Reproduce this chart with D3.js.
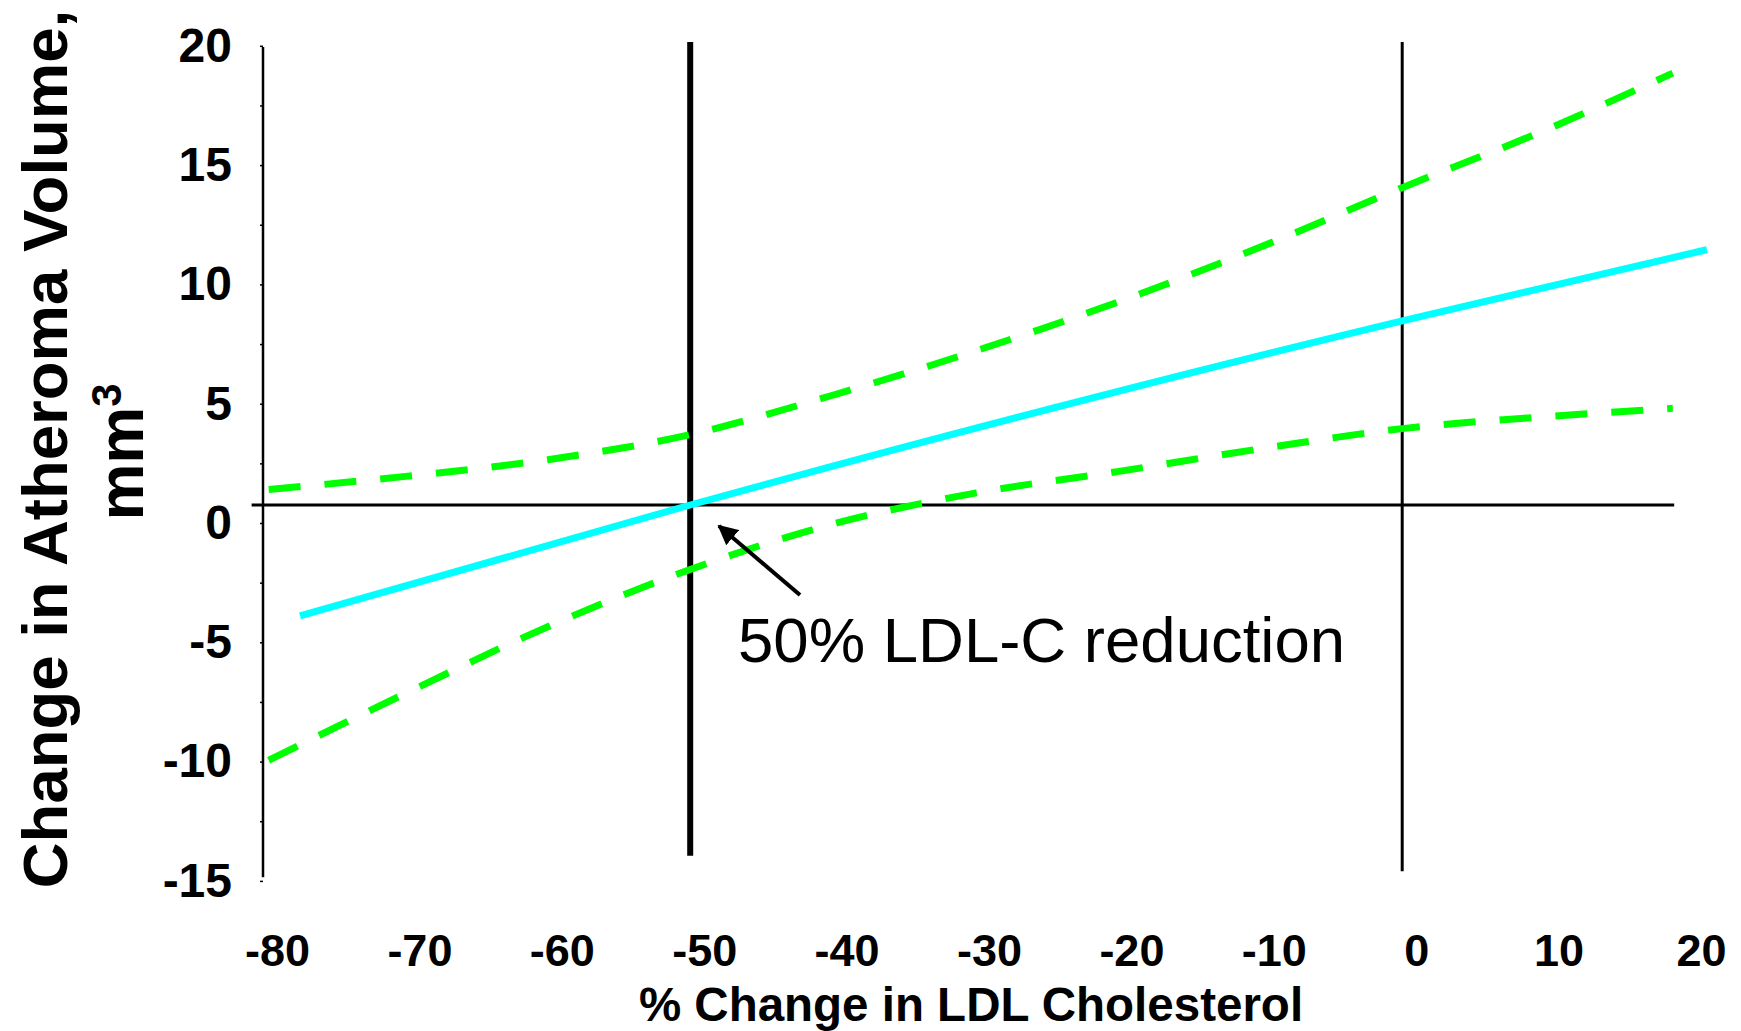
<!DOCTYPE html>
<html>
<head>
<meta charset="utf-8">
<script src="https://cdn.jsdelivr.net/npm/d3@7"></script>
<style>
  body { margin: 0; background: #fff; }
  svg { display: block; font-family: "Liberation Sans", Arial, sans-serif; }
</style>
</head>
<body>
<div class="svg-container"></div>
<script>
// values
var xTicks = [-80, -70, -60, -50, -40, -30, -20, -10, 0, 10, 20];
var yTicks = [-15, -10, -5, 0, 5, 10, 15, 20];

var fitX = [-77.4, -50, 0, 21.4];
var fitY = [-4.65, 0, 7.72, 10.7];

var bandX = [-79.6, -70, -60, -50, -40, -30, -20, -10, 0, 10, 19];
var upperY = [0.65, 1.2, 1.9, 2.95, 4.6, 6.45, 8.5, 10.8, 13.3, 15.7, 18.1];
var lowerY = [-10.7, -7.9, -5.1, -2.7, -0.8, 0.5, 1.4, 2.35, 3.2, 3.7, 4.05];

var refX = -50;      // 50% LDL-C reduction
var noteText = '50% LDL-C reduction';

var W = 1741, H = 1031;

var svg = d3.select('.svg-container').append('svg')
  .attr('width', W)
  .attr('height', H);

svg.append('rect').attr('width', W).attr('height', H).attr('fill', '#fff');

var x = d3.scaleLinear().domain([-80, 20]).range([263, 1687]);
var y = d3.scaleLinear().domain([-15, 20]).range([862.9, 27.8]);

// plain hyphen minus, like the original labels
function fmt(d) { return String(d); }

// y axis: tick labels sit a little below their grid value, as in the original
var yAxis = d3.axisLeft(y)
  .tickValues(d3.range(-15, 20.1, 2.5))
  .tickSize(3)
  .tickFormat(function(d) { return yTicks.indexOf(d) >= 0 ? fmt(d) : ''; });

var gy = svg.append('g')
  .attr('transform', 'translate(' + x(-80) + ',18)')
  .call(yAxis);
gy.select('.domain').remove();
gy.selectAll('.tick line').attr('stroke', '#000').attr('stroke-width', 1.5);
gy.selectAll('.tick text')
  .attr('x', -31)
  .attr('fill', '#000')
  .style('font-size', '48px')
  .style('font-weight', 'bold');

svg.append('line')
  .attr('x1', x(-80)).attr('x2', x(-80))
  .attr('y1', y(19.2)).attr('y2', y(-15.6))
  .attr('stroke', '#000').attr('stroke-width', 2.5);

// x axis labels only (no baseline drawn)
var xAxis = d3.axisBottom(x).tickValues(xTicks).tickSize(0).tickFormat(fmt);
var gx = svg.append('g')
  .attr('transform', 'translate(14,0)')
  .call(xAxis);
gx.select('.domain').remove();
gx.selectAll('.tick text')
  .attr('y', 966)
  .attr('dy', 0)
  .attr('fill', '#000')
  .style('font-size', '45px')
  .style('font-weight', 'bold');

// reference lines
svg.append('line')
  .attr('x1', x(-80.8)).attr('x2', x(19.1))
  .attr('y1', y(0)).attr('y2', y(0))
  .attr('stroke', '#000').attr('stroke-width', 3);

svg.append('line')
  .attr('x1', x(0)).attr('x2', x(0))
  .attr('y1', y(19.4)).attr('y2', y(-15.35))
  .attr('stroke', '#000').attr('stroke-width', 3);

svg.append('line')
  .attr('x1', x(refX)).attr('x2', x(refX))
  .attr('y1', y(19.4)).attr('y2', y(-14.7))
  .attr('stroke', '#000').attr('stroke-width', 6);

// confidence band + fit
var line = d3.line()
  .x(function(d) { return x(d[0]); })
  .y(function(d) { return y(d[1]); })
  .curve(d3.curveMonotoneX);

svg.append('path')
  .datum(d3.zip(bandX, upperY))
  .attr('d', line)
  .attr('fill', 'none')
  .attr('stroke', '#00ff00')
  .attr('stroke-width', 7)
  .attr('stroke-dasharray', '32,24');

svg.append('path')
  .datum(d3.zip(bandX, lowerY))
  .attr('d', line)
  .attr('fill', 'none')
  .attr('stroke', '#00ff00')
  .attr('stroke-width', 7)
  .attr('stroke-dasharray', '32,24');

svg.append('path')
  .datum(d3.zip(fitX, fitY))
  .attr('d', line)
  .attr('fill', 'none')
  .attr('stroke', '#00ffff')
  .attr('stroke-width', 7);

// arrow + note
svg.append('defs').append('marker')
  .attr('id', 'head')
  .attr('viewBox', '0 0 10 10')
  .attr('refX', 9).attr('refY', 5)
  .attr('markerWidth', 5).attr('markerHeight', 5)
  .attr('markerUnits', 'strokeWidth')
  .attr('orient', 'auto')
  .append('path')
  .attr('d', 'M0,0L10,5L0,10z')
  .attr('fill', '#000');

svg.append('line')
  .attr('x1', 800).attr('y1', 595)
  .attr('x2', 719).attr('y2', 526)
  .attr('stroke', '#000').attr('stroke-width', 4)
  .attr('marker-end', 'url(#head)');

svg.append('text')
  .attr('x', 738).attr('y', 662)
  .style('font-size', '63.5px')
  .text(noteText);

// axis titles
svg.append('text')
  .attr('x', 971).attr('y', 1021)
  .attr('text-anchor', 'middle')
  .style('font-size', '47.5px')
  .style('font-weight', 'bold')
  .text('% Change in LDL Cholesterol');

svg.append('text')
  .attr('transform', 'translate(67,449) rotate(-90)')
  .attr('text-anchor', 'middle')
  .style('font-size', '63.5px')
  .style('font-weight', 'bold')
  .text('Change in Atheroma Volume,');

var t2 = svg.append('text')
  .attr('transform', 'translate(143,452) rotate(-90)')
  .attr('text-anchor', 'middle')
  .style('font-size', '64px')
  .style('font-weight', 'bold');
t2.append('tspan').text('mm');
t2.append('tspan')
  .attr('dy', -22)
  .style('font-size', '42px')
  .text('3');
</script>
</body>
</html>
